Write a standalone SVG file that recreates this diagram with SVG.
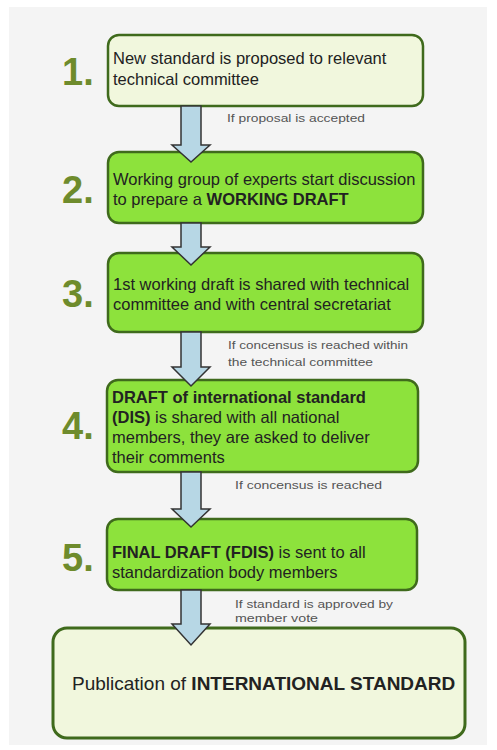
<svg xmlns="http://www.w3.org/2000/svg" width="497" height="750" viewBox="0 0 497 750">
<style>
.box{stroke:#3f6a1c;stroke-width:2.5}
.pale{fill:#f1f7dd}
.green{fill:#8de23c}
.num{font-family:"Liberation Sans",Arial,sans-serif;font-weight:bold;font-size:38px;fill:#6e8b2c}
.t{font-family:"Liberation Sans",Arial,sans-serif;font-size:16.5px;fill:#222}
.b{font-weight:bold}
.lbl{font-family:"Liberation Sans",Arial,sans-serif;font-size:11.5px;fill:#555}
.arr{fill:#b7d7e5;stroke:#333;stroke-width:1.5;stroke-linejoin:miter}
</style>
<rect x="0" y="0" width="497" height="750" fill="#ffffff"/>
<rect x="9" y="7" width="478" height="738" fill="#f4f4f4"/>

<g id="step1">
<rect class="box pale" x="108" y="35" width="315" height="71" rx="11"/>
<text class="num" x="62" y="85">1.</text>
<text class="t" x="113" y="64">New standard is proposed to relevant</text>
<text class="t" x="113" y="85">technical committee</text>
</g>
<g id="step2">
<rect class="box green" x="108" y="152" width="315" height="71" rx="11"/>
<text class="num" x="62" y="203">2.</text>
<text class="t" x="113" y="185">Working group of experts start discussion</text>
<text class="t" x="113" y="205">to prepare a <tspan class="b">WORKING DRAFT</tspan></text>
</g>
<g id="step3">
<rect class="box green" x="108" y="253" width="315" height="79" rx="11"/>
<text class="num" x="62" y="307">3.</text>
<text class="t" x="113" y="290">1st working draft is shared with technical</text>
<text class="t" x="113" y="310">committee and with central secretariat</text>
</g>
<g id="step4">
<rect class="box green" x="107" y="380" width="311" height="92" rx="11"/>
<text class="num" x="62" y="439">4.</text>
<text class="t b" x="112" y="403">DRAFT of international standard</text>
<text class="t" x="112" y="423"><tspan class="b">(DIS)</tspan> is shared with all national</text>
<text class="t" x="112" y="443">members, they are asked to deliver</text>
<text class="t" x="112" y="463">their comments</text>
</g>
<g id="step5">
<rect class="box green" x="107" y="519" width="310" height="71" rx="11"/>
<text class="num" x="62" y="571">5.</text>
<text class="t" x="112" y="558"><tspan class="b">FINAL DRAFT (FDIS)</tspan> is sent to all</text>
<text class="t" x="112" y="578">standardization body members</text>
</g>
<g id="publication">
<rect class="box pale" x="53" y="628" width="412" height="110" rx="14" style="stroke-width:3"/>
<text class="t" x="72" y="690" style="font-size:19px">Publication of <tspan class="b">INTERNATIONAL STANDARD</tspan></text>
</g>

<g id="connectors">
<path class="arr" d="M181,106 V145 H172 L191,162 L210,145 H201 V106 Z"/>
<path class="arr" d="M181,223 V247 H172 L191,265 L210,247 H201 V223 Z"/>
<path class="arr" d="M181,332 V367 H172 L191,386 L210,367 H201 V332 Z"/>
<path class="arr" d="M181,472 V509 H172 L191,527 L210,509 H201 V472 Z"/>
<path class="arr" d="M181,590 V624 H172 L191,645 L210,624 H201 V590 Z"/>
<text class="lbl" x="227" y="122" textLength="138" lengthAdjust="spacingAndGlyphs">If proposal is accepted</text>
<text class="lbl" x="228" y="349" textLength="180" lengthAdjust="spacingAndGlyphs">If concensus is reached within</text>
<text class="lbl" x="228" y="366" textLength="145" lengthAdjust="spacingAndGlyphs">the technical committee</text>
<text class="lbl" x="235" y="489" textLength="147" lengthAdjust="spacingAndGlyphs">If concensus is reached</text>
<text class="lbl" x="235" y="608" textLength="158" lengthAdjust="spacingAndGlyphs">If standard is approved by</text>
<text class="lbl" x="235" y="622" textLength="83" lengthAdjust="spacingAndGlyphs">member vote</text>
</g>
</svg>
